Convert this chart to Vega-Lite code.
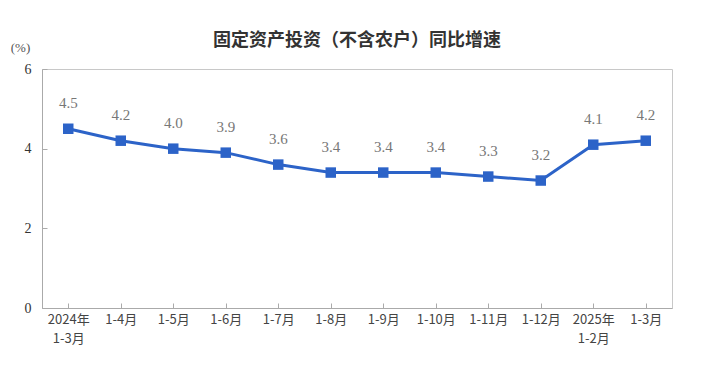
{
  "$schema": "https://vega.github.io/schema/vega-lite/v6.json",
  "width": 630,
  "height": 239,
  "autosize": {"type": "none"},
  "padding": {"left": 42, "top": 69, "right": 32, "bottom": 65},
  "background": "white",
  "title": {
    "text": "固定资产投资（不含农户）同比增速",
    "font": "Noto Sans CJK SC",
    "fontSize": 18,
    "fontWeight": "bold",
    "color": "#333333",
    "anchor": "middle",
    "frame": "group",
    "offset": 16,
    "dy": 25
  },
  "config": {
    "view": {"stroke": "#c8c8c8", "strokeWidth": 1},
    "axis": {"grid": false}
  },
  "data": {
    "values": [
      {"period": "2024年|1-3月", "value": 4.5},
      {"period": "1-4月", "value": 4.2},
      {"period": "1-5月", "value": 4.0},
      {"period": "1-6月", "value": 3.9},
      {"period": "1-7月", "value": 3.6},
      {"period": "1-8月", "value": 3.4},
      {"period": "1-9月", "value": 3.4},
      {"period": "1-10月", "value": 3.4},
      {"period": "1-11月", "value": 3.3},
      {"period": "1-12月", "value": 3.2},
      {"period": "2025年|1-2月", "value": 4.1},
      {"period": "1-3月", "value": 4.2}
    ]
  },
  "encoding": {
    "x": {
      "field": "period",
      "type": "nominal",
      "sort": null,
      "scale": {"paddingInner": 0, "paddingOuter": 0},
      "axis": {
        "title": null,
        "labelAngle": 0,
        "labelExpr": "split(datum.label, '|')",
        "labelFont": "Noto Sans CJK SC",
        "labelFontSize": 13,
        "labelColor": "#444444",
        "labelLineHeight": 19,
        "labelPadding": 10,
        "bandPosition": 0,
        "tickSize": -5,
        "tickColor": "#aaaaaa",
        "domainColor": "#aaaaaa"
      }
    },
    "y": {
      "field": "value",
      "type": "quantitative",
      "scale": {"domain": [0, 6], "nice": false},
      "axis": {
        "values": [0, 2, 4, 6],
        "title": "(%)",
        "titleAngle": 0,
        "titleX": -22,
        "titleY": -22,
        "titleAlign": "center",
        "titleBaseline": "middle",
        "titleFont": "Liberation Serif",
        "titleFontSize": 13,
        "titleFontWeight": "normal",
        "titleColor": "#555555",
        "labelFont": "Liberation Serif",
        "labelFontSize": 14,
        "labelColor": "#333333",
        "labelPadding": 16,
        "tickSize": -5,
        "tickColor": "#aaaaaa",
        "domainColor": "#aaaaaa"
      }
    }
  },
  "layer": [
    {
      "mark": {"type": "line", "color": "#2c63c8", "strokeWidth": 3}
    },
    {
      "mark": {"type": "point", "shape": "square", "filled": true, "size": 110, "color": "#2c63c8", "opacity": 1}
    },
    {
      "mark": {"type": "text", "dy": -26, "font": "Liberation Serif", "fontSize": 15, "color": "#777777"},
      "encoding": {"text": {"field": "value", "type": "quantitative", "format": ".1f"}}
    }
  ]
}
